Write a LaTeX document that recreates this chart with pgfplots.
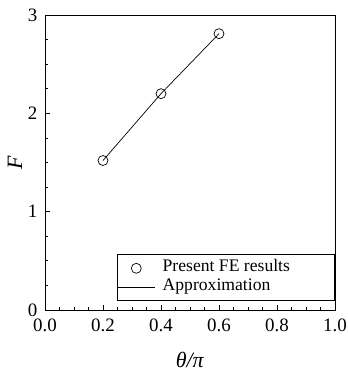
\documentclass[border=0pt]{standalone}
\usepackage{pgfplots}
\pgfplotsset{compat=1.18}
\usepackage{fontspec}
\setmainfont{Liberation Serif}
\pgfplotsset{
  markleg/.style={legend image code/.code={\draw[##1] plot coordinates {(19bp,0bp)};}},
  lineleg/.style={legend image code/.code={\path (0bp,-5bp) -- (0bp,5bp); \draw[##1] (0bp,0bp) -- (38bp,0bp);}},
}
\begin{document}
\begin{tikzpicture}
\begin{axis}[
  scale only axis, width=290bp, height=295bp,
  xmin=0, xmax=1, ymin=0, ymax=3,
  xtick={0,0.2,0.4,0.6,0.8,1.0}, ytick={0,1,2,3},
  minor x tick num=3, minor y tick num=3,
  tick pos=left, tick align=inside,
  major tick length=5bp, minor tick length=3bp,
  axis line style={line width=0.9pt},
  every tick/.style={black, line width=0.7pt},
  /pgf/number format/assume math mode=true,
  ticklabel style={font=\fontsize{19}{21}\selectfont, inner sep=0.5bp},
  xticklabel style={yshift=-8bp, /pgf/number format/.cd, fixed, fixed zerofill, precision=1},
  yticklabel style={xshift=-7bp},
  xlabel={\textit{θ/π}}, ylabel={\textit{F}},
  label style={font=\fontsize{22}{24}\selectfont},
  xlabel style={at={(axis description cs:0.5,0)}, anchor=center, yshift=-50bp},
  ylabel style={at={(axis description cs:0,0.5)}, anchor=center, yshift=30bp},
  legend style={at={(1,0.03)}, anchor=south east, draw=black, line width=0.7pt,
    font=\fontsize{17.7}{20}\selectfont, inner xsep=0pt, inner ysep=4bp,
    row sep=0pt, column sep=0pt,
    nodes={inner sep=0pt, text height=13bp, text depth=6bp}},
  legend cell align=left,
]
\coordinate (bl) at (rel axis cs:0,0);
\addplot[only marks, mark=o, mark size=5bp, black, line width=0.7pt, markleg]
  coordinates {(0.2,1.52) (0.4,2.20) (0.6,2.81)};
\addlegendentry{\hspace*{7bp}\makebox[172bp][l]{Present FE results}}
\addplot[black, line width=0.7pt, no marks, lineleg]
  coordinates {(0.2,1.52) (0.4,2.20) (0.6,2.81)};
\addlegendentry{\hspace*{7bp}\makebox[172bp][l]{Approximation}}
\end{axis}
\path (bl) ++(-45bp,-66bp) rectangle ++(347bp,376bp);
\end{tikzpicture}
\end{document}
